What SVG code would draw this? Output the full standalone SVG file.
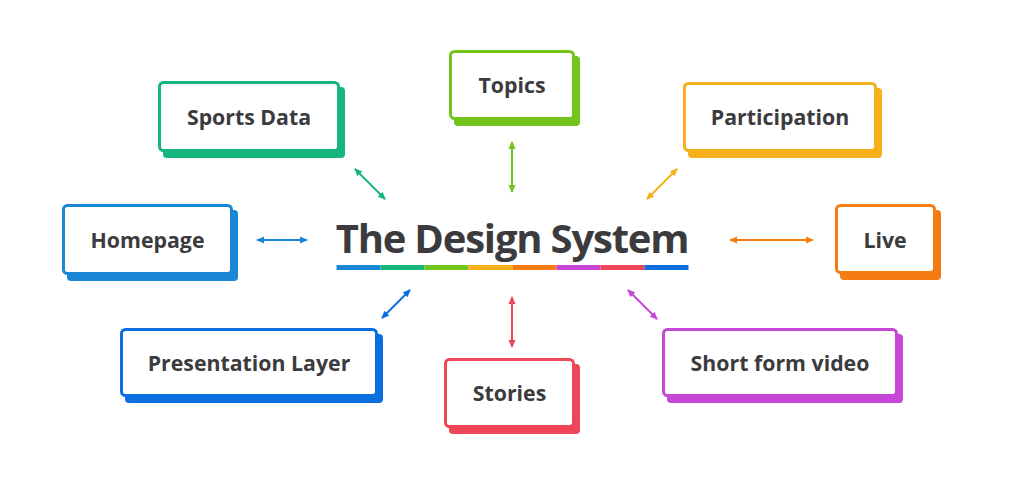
<svg xmlns="http://www.w3.org/2000/svg" width="1024" height="480" viewBox="0 0 1024 480">
<style>
  .lbl { font-family: "Open Sans", "Noto Sans", "Liberation Sans", sans-serif; font-weight: 700; font-size: 21.3px; fill: #3b3b3e; text-anchor: middle; }
  .title { font-family: "Open Sans", "Noto Sans", "Liberation Sans", sans-serif; font-weight: 700; font-size: 40px; letter-spacing: -1.2px; fill: #3b3b3e; }
  .box { fill: #ffffff; stroke-width: 3; }
  .conn line { stroke-width: 2; fill: none; }
</style>
<defs>
  <marker id="m-homepage" viewBox="0 0 8 8" refX="7" refY="4" markerWidth="8" markerHeight="8" markerUnits="userSpaceOnUse" orient="auto-start-reverse"><path d="M0,0.5 L8,4 L0,7.5 z" fill="#1a87d6"/></marker>
  <marker id="m-sports" viewBox="0 0 8 8" refX="7" refY="4" markerWidth="8" markerHeight="8" markerUnits="userSpaceOnUse" orient="auto-start-reverse"><path d="M0,0.5 L8,4 L0,7.5 z" fill="#16b67c"/></marker>
  <marker id="m-topics" viewBox="0 0 8 8" refX="7" refY="4" markerWidth="8" markerHeight="8" markerUnits="userSpaceOnUse" orient="auto-start-reverse"><path d="M0,0.5 L8,4 L0,7.5 z" fill="#72c51c"/></marker>
  <marker id="m-part" viewBox="0 0 8 8" refX="7" refY="4" markerWidth="8" markerHeight="8" markerUnits="userSpaceOnUse" orient="auto-start-reverse"><path d="M0,0.5 L8,4 L0,7.5 z" fill="#f5b01c"/></marker>
  <marker id="m-live" viewBox="0 0 8 8" refX="7" refY="4" markerWidth="8" markerHeight="8" markerUnits="userSpaceOnUse" orient="auto-start-reverse"><path d="M0,0.5 L8,4 L0,7.5 z" fill="#f47c12"/></marker>
  <marker id="m-short" viewBox="0 0 8 8" refX="7" refY="4" markerWidth="8" markerHeight="8" markerUnits="userSpaceOnUse" orient="auto-start-reverse"><path d="M0,0.5 L8,4 L0,7.5 z" fill="#c646d6"/></marker>
  <marker id="m-stories" viewBox="0 0 8 8" refX="7" refY="4" markerWidth="8" markerHeight="8" markerUnits="userSpaceOnUse" orient="auto-start-reverse"><path d="M0,0.5 L8,4 L0,7.5 z" fill="#ef4556"/></marker>
  <marker id="m-pres" viewBox="0 0 8 8" refX="7" refY="4" markerWidth="8" markerHeight="8" markerUnits="userSpaceOnUse" orient="auto-start-reverse"><path d="M0,0.5 L8,4 L0,7.5 z" fill="#0b6fdf"/></marker>
</defs>
<rect width="1024" height="480" fill="#ffffff"/>

<g id="center">
  <text class="title" x="512" y="253" text-anchor="middle">The Design System</text>
  <rect x="336.5" y="265" width="44" height="5" fill="#1a87d6"/>
  <rect x="380.5" y="265" width="44" height="5" fill="#16b67c"/>
  <rect x="424.5" y="265" width="44" height="5" fill="#72c51c"/>
  <rect x="468.5" y="265" width="44" height="5" fill="#f5b01c"/>
  <rect x="512.5" y="265" width="44" height="5" fill="#f47c12"/>
  <rect x="556.5" y="265" width="44" height="5" fill="#c646d6"/>
  <rect x="600.5" y="265" width="44" height="5" fill="#ef4556"/>
  <rect x="644.5" y="265" width="44" height="5" fill="#0b6fdf"/>
</g>

<g id="connectors" class="conn">
  <line x1="257" y1="240" x2="307" y2="240" stroke="#1a87d6" marker-start="url(#m-homepage)" marker-end="url(#m-homepage)"/>
  <line x1="355" y1="169" x2="385" y2="199" stroke="#16b67c" marker-start="url(#m-sports)" marker-end="url(#m-sports)"/>
  <line x1="512" y1="142" x2="512" y2="192" stroke="#72c51c" marker-start="url(#m-topics)" marker-end="url(#m-topics)"/>
  <line x1="677" y1="169" x2="647" y2="199" stroke="#f5b01c" marker-start="url(#m-part)" marker-end="url(#m-part)"/>
  <line x1="730" y1="240" x2="813" y2="240" stroke="#f47c12" marker-start="url(#m-live)" marker-end="url(#m-live)"/>
  <line x1="628" y1="290" x2="657" y2="319" stroke="#c646d6" marker-start="url(#m-short)" marker-end="url(#m-short)"/>
  <line x1="512" y1="297" x2="512" y2="347" stroke="#ef4556" marker-start="url(#m-stories)" marker-end="url(#m-stories)"/>
  <line x1="410" y1="290" x2="382" y2="318" stroke="#0b6fdf" marker-start="url(#m-pres)" marker-end="url(#m-pres)"/>
</g>

<g id="homepage">
  <rect x="67" y="210" width="171" height="71" rx="4" fill="#1a87d6"/>
  <rect class="box" x="63.5" y="205.5" width="168" height="68" rx="4" stroke="#1a87d6"/>
  <text class="lbl" x="147.5" y="247.5">Homepage</text>
</g>

<g id="sports-data">
  <rect x="163" y="87" width="182" height="71" rx="4" fill="#16b67c"/>
  <rect class="box" x="159.5" y="82.5" width="179" height="68" rx="4" stroke="#16b67c"/>
  <text class="lbl" x="249" y="124.5">Sports Data</text>
</g>

<g id="topics">
  <rect x="454" y="56" width="126" height="70" rx="4" fill="#72c51c"/>
  <rect class="box" x="450.5" y="51.5" width="123" height="67" rx="4" stroke="#72c51c"/>
  <text class="lbl" x="512" y="93">Topics</text>
</g>

<g id="participation">
  <rect x="688" y="88" width="194" height="70" rx="4" fill="#f5b01c"/>
  <rect class="box" x="684.5" y="83.5" width="191" height="67" rx="4" stroke="#f5b01c"/>
  <text class="lbl" x="780" y="125">Participation</text>
</g>

<g id="live">
  <rect x="840" y="210" width="101" height="70" rx="4" fill="#f47c12"/>
  <rect class="box" x="836.5" y="205.5" width="98" height="67" rx="4" stroke="#f47c12"/>
  <text class="lbl" x="885" y="247.5">Live</text>
</g>

<g id="short-form-video">
  <rect x="667" y="334" width="236" height="69" rx="4" fill="#c646d6"/>
  <rect class="box" x="663.5" y="329.5" width="233" height="66" rx="4" stroke="#c646d6"/>
  <text class="lbl" x="780" y="370.5">Short form video</text>
</g>

<g id="stories">
  <rect x="449" y="364" width="131" height="70" rx="4" fill="#ef4556"/>
  <rect class="box" x="445.5" y="359.5" width="128" height="67" rx="4" stroke="#ef4556"/>
  <text class="lbl" x="509.5" y="401">Stories</text>
</g>

<g id="presentation-layer">
  <rect x="125" y="334" width="258" height="69" rx="4" fill="#0b6fdf"/>
  <rect class="box" x="121.5" y="329.5" width="255" height="66" rx="4" stroke="#0b6fdf"/>
  <text class="lbl" x="249" y="370.5">Presentation Layer</text>
</g>
</svg>
